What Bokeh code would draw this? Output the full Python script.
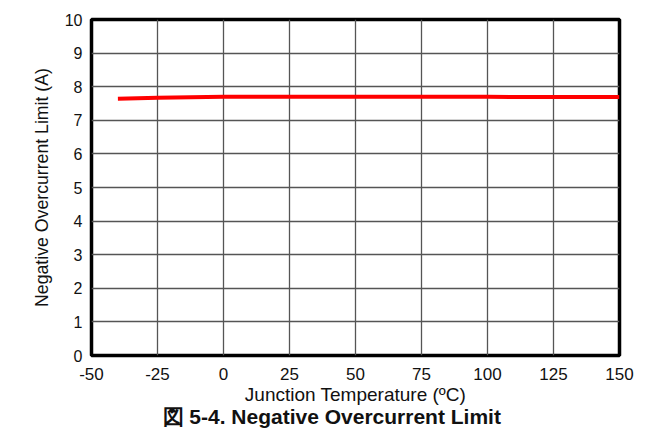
from bokeh.plotting import figure
from bokeh.models import FixedTicker, Range1d, Title
from bokeh.embed import file_html
from bokeh.resources import INLINE

# Data
temperature_c = [-40, -25, 0, 25, 50, 75, 100, 125, 150]
neg_ocl_a = [7.64, 7.67, 7.70, 7.70, 7.70, 7.70, 7.70, 7.69, 7.69]

x_ticks = [-50, -25, 0, 25, 50, 75, 100, 125, 150]
y_ticks = [0, 1, 2, 3, 4, 5, 6, 7, 8, 9, 10]

x_label = "Junction Temperature (ºC)"
y_label = "Negative Overcurrent Limit (A)"
caption = "図 5-4. Negative Overcurrent Limit"

FONT = "Liberation Sans"

p = figure(width=647, height=428, output_backend="svg", toolbar_location=None,
           x_range=Range1d(-50, 150), y_range=Range1d(0, 10),
           min_border_left=91, min_border_right=28, min_border_top=19, min_border_bottom=73)

p.line(temperature_c, neg_ocl_a, line_color="#ff0000", line_width=4)

p.outline_line_color = "black"
p.outline_line_width = 3.5
p.outline_line_alpha = 1.0

for ax in (p.xaxis[0], p.yaxis[0]):
    ax.axis_line_color = None
    ax.major_tick_line_color = None
    ax.minor_tick_line_color = None
    ax.major_tick_out = 0
    ax.major_tick_in = 0
    ax.major_label_text_font = FONT
    ax.major_label_text_color = "#111111"
    ax.axis_label_text_font = FONT
    ax.axis_label_text_font_style = "normal"
    ax.axis_label_text_color = "#111111"

p.xaxis.ticker = FixedTicker(ticks=x_ticks)
p.yaxis.ticker = FixedTicker(ticks=y_ticks)
p.xaxis.major_label_overrides = {t: str(t) for t in x_ticks}
p.xaxis.major_label_text_font_size = "17px"
p.yaxis.major_label_text_font_size = "16px"
p.xaxis.axis_label = x_label
p.yaxis.axis_label = y_label
p.xaxis.axis_label_text_font_size = "19px"
p.yaxis.axis_label_text_font_size = "17.7px"
p.xaxis.major_label_standoff = 12
p.yaxis.major_label_standoff = 9
p.xaxis.axis_label_standoff = 1
p.yaxis.axis_label_standoff = 10

p.xgrid.ticker = FixedTicker(ticks=x_ticks)
p.ygrid.ticker = FixedTicker(ticks=y_ticks)
p.grid.grid_line_color = "#555555"
p.grid.grid_line_width = 1.3
p.grid.grid_line_alpha = 1.0

t = Title(text=caption, align="left", text_font=FONT, text_font_size="21px",
          text_font_style="bold", text_color="#111111", standoff=-9, offset=71)
p.add_layout(t, "below")

open("out.html", "w").write(file_html(p, INLINE))
